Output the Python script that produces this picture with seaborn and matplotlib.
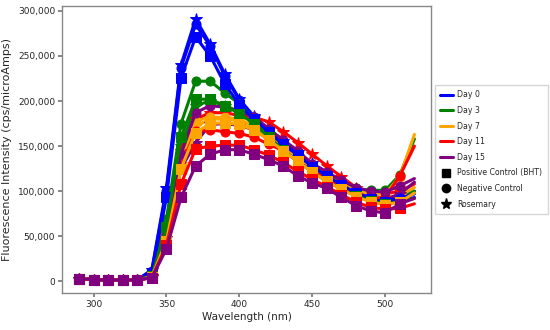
import matplotlib
matplotlib.use("Agg")
import matplotlib.pyplot as plt
from matplotlib.lines import Line2D
from matplotlib.ticker import FuncFormatter
import pandas as pd
import seaborn as sns

wavelength = [290, 300, 310, 320, 330, 340, 350, 360, 370, 380, 390, 400,
              410, 420, 430, 440, 450, 460, 470, 480, 490, 500, 510, 520]

day_labels = ["Day 0", "Day 3", "Day 7", "Day 11", "Day 15"]
day_colors = ["blue", "green", "orange", "red", "purple"]
treatments = ["Positive Control (BHT)", "Negative Control", "Rosemary"]
treatment_markers = ["s", "o", "*"]

base = [3000, 2000, 1500, 1500, 1500]

# Day 0
day0_bht = base + [9000, 93000, 226000, 271000, 250000, 219000, 196000, 180000, 166000, 152000,
                   140000, 127000, 117000, 107000, 98000, 91000, 88000, 89000, 93000]
day0_neg = base + [12000, 100000, 237000, 285000, 261000, 228000, 201000, 182000, 168000, 154000,
                   142000, 129000, 119000, 109000, 100000, 93000, 90000, 92000, 97000]
day0_ros = base + [13000, 104000, 240000, 291000, 263000, 230000, 202000, 183000, 169000, 156000,
                   143000, 131000, 121000, 110000, 101000, 95000, 92000, 94000, 100000]

# Day 3
day3_bht = base + [6000, 60000, 160000, 202000, 202000, 195000, 186000, 175000, 160000, 146000,
                   133000, 121000, 111000, 102000, 95000, 89000, 86000, 88000, 92000]
day3_neg = base + [8000, 69000, 175000, 222000, 222000, 209000, 197000, 180000, 165000, 150000,
                   138000, 126000, 117000, 109000, 103000, 101000, 101000, 118000, 158000]
day3_ros = base + [6000, 58000, 150000, 195000, 200000, 195000, 188000, 176000, 163000, 149000,
                   137000, 125000, 115000, 106000, 99000, 94000, 92000, 95000, 100000]

# Day 7
day7_bht = base + [5000, 45000, 125000, 165000, 175000, 176000, 174000, 168000, 157000, 145000,
                   133000, 121000, 111000, 102000, 94000, 88000, 85000, 88000, 98000]
day7_neg = base + [5000, 52000, 140000, 178000, 182000, 182000, 180000, 172000, 160000, 148000,
                   137000, 126000, 117000, 108000, 101000, 97000, 97000, 116000, 163000]
day7_ros = base + [5000, 48000, 130000, 172000, 180000, 180000, 178000, 171000, 162000, 150000,
                   139000, 127000, 117000, 107000, 99000, 94000, 92000, 95000, 104000]

# Day 11
day11_bht = base + [4000, 40000, 108000, 147000, 150000, 151000, 151000, 146000, 140000, 132000,
                    122000, 113000, 105000, 96000, 88000, 82000, 80000, 81000, 86000]
day11_neg = base + [5000, 45000, 128000, 167000, 168000, 166000, 164000, 160000, 152000, 145000,
                    133000, 122000, 115000, 105000, 97000, 92000, 93000, 117000, 150000]
day11_ros = base + [6000, 55000, 145000, 180000, 187000, 187000, 184000, 182000, 177000, 166000,
                    154000, 141000, 128000, 116000, 104000, 98000, 97000, 100000, 108000]

# Day 15
day15_bht = base + [4000, 36000, 93000, 128000, 141000, 146000, 146000, 141000, 135000, 128000,
                    117000, 109000, 103000, 93000, 84000, 78000, 76000, 86000, 92000]
day15_neg = base + [4000, 51000, 141000, 187000, 195000, 193000, 189000, 182000, 169000, 157000,
                    145000, 130000, 121000, 112000, 104000, 100000, 99000, 106000, 114000]
day15_ros = base + [5000, 48000, 125000, 154000, 174000, 175000, 173000, 168000, 158000, 147000,
                    136000, 124000, 114000, 104000, 96000, 91000, 91000, 97000, 110000]

series = {
    ("Day 0", "Positive Control (BHT)"): day0_bht,
    ("Day 0", "Negative Control"): day0_neg,
    ("Day 0", "Rosemary"): day0_ros,
    ("Day 3", "Positive Control (BHT)"): day3_bht,
    ("Day 3", "Negative Control"): day3_neg,
    ("Day 3", "Rosemary"): day3_ros,
    ("Day 7", "Positive Control (BHT)"): day7_bht,
    ("Day 7", "Negative Control"): day7_neg,
    ("Day 7", "Rosemary"): day7_ros,
    ("Day 11", "Positive Control (BHT)"): day11_bht,
    ("Day 11", "Negative Control"): day11_neg,
    ("Day 11", "Rosemary"): day11_ros,
    ("Day 15", "Positive Control (BHT)"): day15_bht,
    ("Day 15", "Negative Control"): day15_neg,
    ("Day 15", "Rosemary"): day15_ros,
}

sns.set_theme(style="ticks")
plt.rcParams["font.family"] = ["DejaVu Sans"]

fig, ax = plt.subplots(figsize=(5.5, 3.3), dpi=100)
fig.subplots_adjust(left=0.113, right=0.784, bottom=0.112, top=0.982)

draw_order = ["Rosemary", "Negative Control", "Positive Control (BHT)"]
for treatment in draw_order:
    marker = treatment_markers[treatments.index(treatment)]
    msize = 8.5 if marker == "*" else 6.5
    for day, color in zip(day_labels, day_colors):
        df = pd.DataFrame({"wavelength": wavelength, "intensity": series[(day, treatment)]})
        sns.lineplot(data=df, x="wavelength", y="intensity", ax=ax, color=color,
                     linewidth=2.2, marker=marker, markersize=msize,
                     markeredgecolor=color, markevery=slice(0, len(wavelength) - 1))

ax.yaxis.set_major_formatter(FuncFormatter(lambda v, p: f"{int(v):,}"))
ax.set_xlabel("Wavelength (nm)", fontsize=7.5, labelpad=2)
ax.set_ylabel("Fluorescence Intensity (cps/microAmps)", fontsize=8, labelpad=4)
ax.tick_params(labelsize=6.5, length=3, pad=2, color="#777777")
for spine in ax.spines.values():
    spine.set_visible(True)
    spine.set_color("#888888")
    spine.set_linewidth(1.0)

handles = [Line2D([0], [0], color=c, lw=2.2, label=d) for d, c in zip(day_labels, day_colors)]
handles += [Line2D([0], [0], color="black", lw=0, marker=m,
                   markersize=8 if m == "*" else 6, label=t)
            for t, m in zip(treatments, treatment_markers)]
ax.legend(handles=handles, loc="center left", bbox_to_anchor=(1.003, 0.5),
          fontsize=5.6, frameon=True, handlelength=1.6, handletextpad=0.6,
          labelspacing=0.85, borderpad=0.7, borderaxespad=0.3,
          edgecolor="#cccccc", fancybox=False)

fig.savefig("out.png", dpi=100)
